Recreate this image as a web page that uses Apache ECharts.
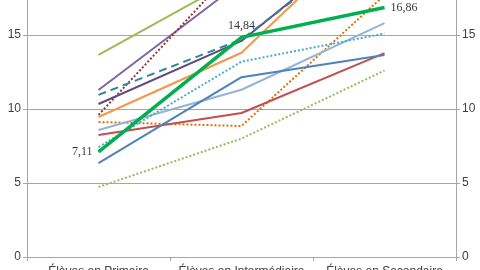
<!DOCTYPE html>
<html><head><meta charset="utf-8">
<script src="https://cdn.jsdelivr.net/npm/echarts@6/dist/echarts.min.js"></script>
<style>html,body{margin:0;padding:0;background:#fff;overflow:hidden;width:480px;height:270px}#c{position:absolute;left:0;top:-39px;width:480px;height:309px}</style>
</head><body><div id="c"></div>
<script>
var categories = ['Élèves en Primaire', 'Élèves en Intermédiaire', 'Élèves en Secondaire'];
var yTicks = [0, 5, 10, 15, 20];
var oliveSolid   = [13.65, 19.0, 21.5];
var purpleSolid  = [11.28, 18.6, 22.0];
var maroonDotted = [9.6, 20.0, 23.0];
var tealDashed   = [10.95, 14.7, 22.0];
var darkPurple   = [10.34, 14.6, 22.4];
var orangeSolid  = [9.46, 13.8, 23.0];
var orangeDotted = [9.12, 8.85, 17.7];
var lightBlue    = [8.58, 11.3, 15.8];
var redSolid     = [8.24, 9.73, 13.78];
var tealDotted   = [7.43, 13.2, 15.1];
var greenThick   = [7.11, 14.84, 16.86];
var blueSolid    = [6.35, 12.15, 13.65];
var oliveDotted  = [4.73, 8.0, 12.6];

function s(name, data, color, type, width, z) {
  return { name: name, type: 'line', data: data, symbol: 'none', z: z || 2,
    lineStyle: { color: color, width: width || 2, type: type || 'solid' } };
}
var green = s('green', greenThick, '#00B050', 'solid', 3.5, 5);
var labelPos = [
  { position: 'left', offset: [2, -5] },
  { position: 'top', offset: [-11, 6] },
  { position: 'right', offset: [0, 0] }
];
var greenLabels = {
  name: 'greenLabels', type: 'scatter', z: 6, symbol: 'circle', symbolSize: 2,
  itemStyle: { color: 'rgba(0,0,0,0)' },
  data: greenThick.map(function (v, i) {
    return { value: v, label: {
      show: true, position: labelPos[i].position, offset: labelPos[i].offset,
      fontFamily: 'Liberation Serif', fontSize: 12, color: '#000',
      formatter: String(v).replace('.', ',')
    } };
  }),
  labelLayout: { hideOverlap: false }
};

var chart = echarts.init(document.getElementById('c'), null, { renderer: 'canvas' });
var yStyle = {
  type: 'value', min: yTicks[0], max: yTicks[yTicks.length - 1], interval: 5,
  axisLine: { show: true, lineStyle: { color: '#a6a6a6' } },
  axisTick: { show: true, length: 4, lineStyle: { color: '#a6a6a6' } },
  axisLabel: { color: '#404040', fontSize: 12, fontFamily: 'Liberation Sans', margin: 6 },
  splitLine: { show: true, lineStyle: { color: '#a6a6a6', width: 1 } }
};
var yRight = JSON.parse(JSON.stringify(yStyle));
yRight.position = 'right';
yRight.splitLine = { show: false };
chart.setOption({
  animation: false,
  grid: { left: 27, right: 24, top: 0, bottom: 13, containLabel: false, outerBoundsMode: 'none' },
  xAxis: {
    type: 'category', data: categories, boundaryGap: true,
    axisLine: { lineStyle: { color: '#a6a6a6' } },
    axisTick: { show: true, length: 4, lineStyle: { color: '#a6a6a6' } },
    axisLabel: { color: '#404040', fontSize: 12, fontFamily: 'Liberation Sans', margin: 9, interval: 0 }
  },
  yAxis: [yStyle, yRight],
  series: [
    s('oliveSolid', oliveSolid, '#9BBB59'),
    s('purpleSolid', purpleSolid, '#8064A2'),
    s('maroonDotted', maroonDotted, '#953735', 'dotted'),
    s('darkPurple', darkPurple, '#604A7B'),
    s('tealDashed', tealDashed, '#31859C', [8, 5]),
    s('orangeSolid', orangeSolid, '#F79646'),
    s('orangeDotted', orangeDotted, '#E46C0A', 'dotted'),
    s('lightBlue', lightBlue, '#95B3D7'),
    s('redSolid', redSolid, '#C0504D'),
    s('tealDotted', tealDotted, '#4BACC6', 'dotted'),
    s('blueSolid', blueSolid, '#4F81BD'),
    s('oliveDotted', oliveDotted, '#9BBB59', 'dotted'),
    green,
    greenLabels
  ]
});
</script></body></html>
